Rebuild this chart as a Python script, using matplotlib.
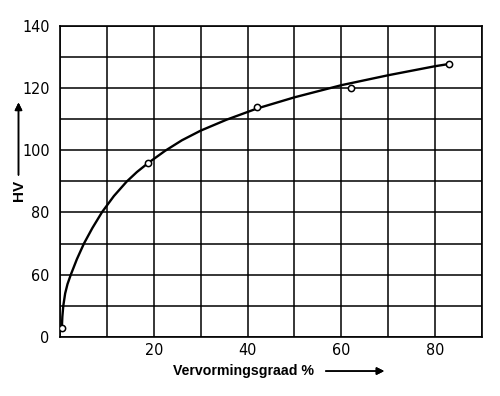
import matplotlib.pyplot as plt

# measured points (deformation %, HV)
meas_x = [0.4, 18.8, 42.1, 62.0, 82.9]
meas_y = [43.0, 96.0, 113.8, 119.9, 127.7]

# fitted curve
curve_x = [0.4, 0.5, 0.7, 1.1, 1.6, 2.3, 3.6, 5.1, 6.9, 9.0, 11.5, 14.2, 16.4, 18.8,
           22.4, 26.0, 30.0, 35.5, 42.0, 50.0, 60.0, 70.0, 80.0, 82.9]
curve_y = [43.0, 46.5, 50.0, 54.0, 57.0, 60.0, 65.0, 70.0, 75.0, 80.2, 85.3, 89.9, 93.0, 95.9,
           99.8, 103.2, 106.3, 109.8, 113.4, 117.0, 120.9, 124.1, 127.0, 127.7]

# y axis is broken: the bottom line is labelled 0
ytick_pos = [40, 60, 80, 100, 120, 140]
ytick_lab = ['0', '60', '80', '100', '120', '140']
xtick_pos = [20, 40, 60, 80]
xtick_lab = ['20', '40', '60', '80']

plt.rcParams['font.family'] = ['DejaVu Sans']
plt.rcParams['font.stretch'] = 'condensed'

fig = plt.figure(figsize=(5, 3.96), dpi=100)
ax = fig.add_axes([0.12, 0.149, 0.844, 0.786])

ax.plot(curve_x, curve_y, color='black', lw=1.7, zorder=3)
ax.plot(meas_x, meas_y, 'o', ms=4.5, mfc='white', mec='black', mew=1.1, zorder=4)

ax.set_xlim(0, 90)
ax.set_ylim(40, 140)
ax.set_xticks(range(0, 91, 10))
ax.set_yticks(range(40, 141, 10))
ax.grid(True, color='black', lw=1.1)
ax.set_xticklabels(['' if v not in xtick_pos else xtick_lab[xtick_pos.index(v)] for v in range(0, 91, 10)])
ax.set_yticklabels(['' if v not in ytick_pos else ytick_lab[ytick_pos.index(v)] for v in range(40, 141, 10)])
ax.tick_params(length=0, labelsize=11.5)
ax.tick_params(axis='y', pad=7.5)
ax.tick_params(axis='x', pad=4.5)
for s in ax.spines.values():
    s.set_color('black')
    s.set_linewidth(1.2)

# axis titles with arrows
fig.text(0.346, 0.063, 'Vervormingsgraad %', fontsize=10.2, fontweight='bold',
         family='Liberation Sans', stretch='normal', va='center', ha='left')
fig.add_artist(plt.annotate('', xy=(0.774, 0.063), xytext=(0.646, 0.063), xycoords='figure fraction',
                            arrowprops=dict(arrowstyle='-|>', color='black', lw=1.1, mutation_scale=11)))
fig.text(0.037, 0.518, 'HV', fontsize=11, fontweight='bold', family='Liberation Sans',
         stretch='normal', rotation=90, va='center', ha='center')
fig.add_artist(plt.annotate('', xy=(0.037, 0.748), xytext=(0.037, 0.551), xycoords='figure fraction',
                            arrowprops=dict(arrowstyle='-|>', color='black', lw=1.1, mutation_scale=11)))

fig.savefig('out.png', dpi=100)
